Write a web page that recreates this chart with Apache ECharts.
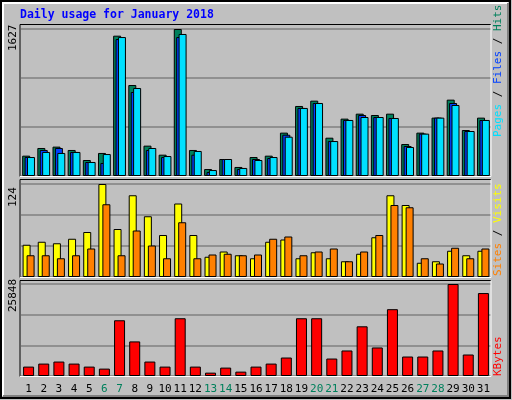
<!DOCTYPE html><html><head><meta charset="utf-8"><script src="https://cdn.jsdelivr.net/npm/echarts@6/dist/echarts.min.js"></script>
<style>html,body{margin:0;padding:0;background:#c0c0c0}#c{width:512px;height:400px}</style></head><body><div id="c"></div><script>
const days=['1','2','3','4','5','6','7','8','9','10','11','12','13','14','15','16','17','18','19','20','21','22','23','24','25','26','27','28','29','30','31'];
const weekend=['6','7','13','14','20','21','27','28'];
const hits=[225,310,325,288,177,255,1553,1007,336,236,1627,288,77,188,100,210,225,480,775,834,424,635,690,675,690,354,480,646,845,509,646];
const files=[210,288,310,266,155,144,1516,930,288,210,1538,236,44,188,77,188,199,457,753,808,387,620,675,653,642,332,469,646,808,498,620];
const pages=[210,266,255,266,155,243,1538,974,310,221,1572,277,66,188,89,177,210,435,753,808,387,620,653,653,642,321,469,646,786,498,620];
const visits=[43,47,45,51,60,124,64,109,81,56,98,56,27,34,29,25,47,50,25,33,25,21,31,53,109,96,19,21,35,29,35];
const sites=[29,29,25,29,38,97,29,62,42,25,73,25,30,31,29,30,51,54,29,34,38,21,34,56,96,93,25,18,39,25,38];
const kbytes=[2642,3490,4057,3490,2642,2075,15660,9717,4057,2642,16226,2642,943,2358,1226,2642,3490,5189,16226,16226,4906,7170,13962,8019,18773,5472,5472,7170,25848,6038,23302];
const maxLabels=['1627','124','25848'];
const c=echarts.init(document.getElementById('c'));
const mono='DejaVu Sans Mono';
const grids=[{left:21,right:21,top:29,height:147},{left:21,right:21,top:184,height:93},{left:21,right:21,top:284,height:92}];
const maxes=[1627,124,25848];
const xAxis=grids.map((g,i)=>({gridIndex:i,type:'category',data:days,axisLine:{show:false},axisTick:{show:false},
 axisLabel:{show:i===2,interval:0,margin:8,fontFamily:mono,fontSize:11,color:(v)=>weekend.includes(v)?'#00805c':'#000'}}));
const yAxis=grids.map((g,i)=>({gridIndex:i,type:'value',min:0,max:maxes[i],interval:maxes[i]/3,axisLabel:{show:false},axisLine:{show:false},axisTick:{show:false},splitLine:{lineStyle:{color:'#808080',width:1.5}}}));
const bs={borderColor:'#000',borderWidth:1};
const series=[
 {type:'bar',xAxisIndex:0,yAxisIndex:0,data:hits,barWidth:8,barGap:'-70%',itemStyle:Object.assign({color:'#00805c'},bs)},
 {type:'bar',xAxisIndex:0,yAxisIndex:0,data:files,barWidth:8,barGap:'-70%',itemStyle:Object.assign({color:'#0040ff'},bs)},
 {type:'bar',xAxisIndex:0,yAxisIndex:0,data:pages,barWidth:8,barGap:'-70%',itemStyle:Object.assign({color:'#00e0ff'},bs)},
 {type:'bar',xAxisIndex:1,yAxisIndex:1,data:visits,barWidth:8,barGap:'-50%',itemStyle:Object.assign({color:'#ffff00'},bs)},
 {type:'bar',xAxisIndex:1,yAxisIndex:1,data:sites,barWidth:8,barGap:'-50%',itemStyle:Object.assign({color:'#ff8000'},bs)},
 {type:'bar',xAxisIndex:2,yAxisIndex:2,data:kbytes,barWidth:11,itemStyle:Object.assign({color:'#ff0000'},bs)}
];
const panels=[[20,24.5,471,152],[20,179.5,471,98],[20,280.5,471,96]];
const gfx=[
 {type:'rect',shape:{x:1,y:1,width:509,height:397},style:{fill:'none',stroke:'#000',lineWidth:2},z:0},
 {type:'polyline',shape:{points:[[3,396],[3,3],[508,3]]},style:{stroke:'#fff',lineWidth:2,fill:'none'}},
 {type:'polyline',shape:{points:[[508,3],[508,396],[3,396]]},style:{stroke:'#808080',lineWidth:2,fill:'none'}},
 {type:'text',x:20,y:15,style:{text:'Daily usage for January 2018',font:'bold 11.5px '+mono,fill:'#0000ff',verticalAlign:'middle'}}
];
panels.forEach(p=>{gfx.push({type:'polyline',z:10,shape:{points:[[p[0],p[1]+p[3]],[p[0],p[1]],[p[0]+p[2],p[1]]]},style:{stroke:'#000',lineWidth:1,fill:'none'}});
 gfx.push({type:'polyline',z:10,shape:{points:[[p[0]+p[2],p[1]],[p[0]+p[2],p[1]+p[3]],[p[0],p[1]+p[3]]]},style:{stroke:'#fff',lineWidth:1,fill:'none'}});});
const labY=[51,207,312];
maxLabels.forEach((t,i)=>gfx.push({type:'text',x:19,y:labY[i],rotation:Math.PI/2,style:{text:t,font:'11px '+mono,fill:'#000',align:'left',verticalAlign:'bottom'}}));
function legend(x,y,parts){gfx.push({type:'text',x:x,y:y,rotation:Math.PI/2,style:{text:parts.map(p=>'{'+p[1]+'|'+p[0]+'}').join(''),font:'11px '+mono,align:'left',verticalAlign:'middle',
 rich:Object.fromEntries(parts.map(p=>[p[1],{fill:p[2],font:'11px '+mono}]))}});}
legend(498,137,[['Pages','a','#00e0ff'],[' / ','s','#000'],['Files','b','#0040ff'],[' / ','s','#000'],['Hits','c','#00805c']]);
legend(498,276,[['Sites','a','#ff8000'],[' / ','s','#000'],['Visits','b','#ffff00']]);
legend(498,376,[['KBytes','a','#ff0000']]);
c.setOption({animation:false,backgroundColor:'#c0c0c0',grid:grids,xAxis:xAxis,yAxis:yAxis,series:series,graphic:gfx});
</script></body></html>
